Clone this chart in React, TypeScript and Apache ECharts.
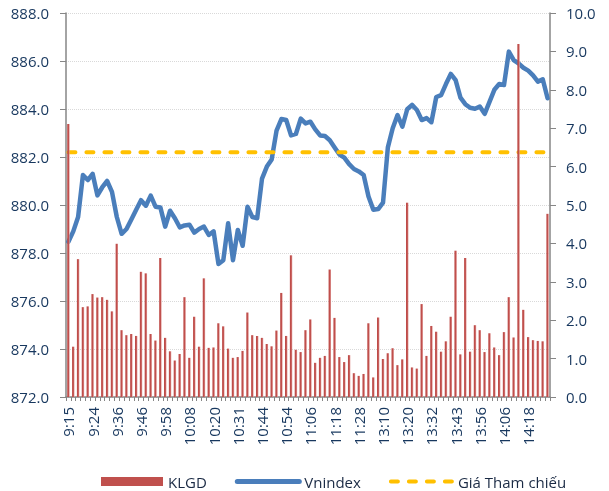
import React, { useEffect, useRef } from "react";
import * as echarts from "echarts";

const times = [
  "9:15", "9:17", "9:19", "9:20", "9:22",
  "9:24", "9:26", "9:29", "9:31", "9:34",
  "9:36", "9:38", "9:40", "9:42", "9:44",
  "9:46", "9:48", "9:51", "9:53", "9:56",
  "9:58", "10:00", "10:02", "10:04", "10:06",
  "10:08", "10:10", "10:13", "10:15", "10:18",
  "10:20", "10:22", "10:24", "10:27", "10:29",
  "10:31", "10:34", "10:36", "10:39", "10:41",
  "10:44", "10:46", "10:48", "10:50", "10:52",
  "10:54", "10:56", "10:59", "11:01", "11:04",
  "11:06", "11:08", "11:11", "11:13", "11:16",
  "11:18", "11:20", "11:22", "11:24", "11:26",
  "11:28", "11:29", "11:30", "13:05", "13:08",
  "13:10", "13:12", "13:14", "13:16", "13:18",
  "13:20", "13:22", "13:25", "13:27", "13:30",
  "13:32", "13:34", "13:36", "13:39", "13:41",
  "13:43", "13:46", "13:48", "13:51", "13:53",
  "13:56", "13:58", "14:00", "14:02", "14:04",
  "14:06", "14:08", "14:11", "14:13", "14:16",
  "14:18", "14:20", "14:22", "14:25", "14:27",
];

// KLGD (right axis)
const klgd = [
  7.11, 1.31, 3.59, 2.34, 2.36, 2.68, 2.59, 2.6, 2.53, 2.23,
  3.99, 1.74, 1.61, 1.64, 1.59, 3.26, 3.22, 1.64, 1.47, 3.62,
  1.54, 1.19, 0.95, 1.12, 2.6, 1.02, 2.09, 1.31, 3.09, 1.28,
  1.29, 1.92, 1.84, 1.26, 1.02, 1.04, 1.2, 2.2, 1.61, 1.59,
  1.54, 1.38, 1.32, 1.73, 2.71, 1.59, 3.69, 1.23, 1.17, 1.74,
  2.02, 0.89, 1.02, 1.07, 3.32, 2.06, 1.04, 0.91, 1.09, 0.62,
  0.55, 0.6, 1.92, 0.51, 2.07, 0.99, 1.14, 1.27, 0.83, 0.98,
  5.06, 0.77, 0.74, 2.42, 1.07, 1.85, 1.7, 1.18, 1.45, 2.09,
  3.81, 1.11, 3.62, 1.18, 1.87, 1.74, 1.17, 1.66, 1.29, 1.09,
  1.69, 2.6, 1.55, 9.19, 2.27, 1.56, 1.48, 1.46, 1.45, 4.77,
];

// Vnindex (left axis)
const vnindex = [
  878.47, 878.9, 879.5, 881.25, 881.04, 881.3, 880.4, 880.74, 881.0, 880.55,
  879.5, 878.8, 879.0, 879.4, 879.8, 880.2, 879.97, 880.39, 879.93, 879.9,
  879.1, 879.76, 879.45, 879.07, 879.15, 879.18, 878.85, 879.0, 879.1, 878.75,
  878.9, 877.54, 877.7, 879.24, 877.7, 878.96, 878.3, 879.93, 879.5, 879.45,
  881.1, 881.6, 881.9, 883.1, 883.58, 883.54, 882.9, 882.96, 883.6, 883.4,
  883.47, 883.15, 882.9, 882.875, 882.7, 882.4, 882.1, 881.97, 881.7, 881.5,
  881.4, 881.25, 880.35, 879.8, 879.83, 880.1, 882.4, 883.2, 883.75, 883.26,
  883.99, 884.17, 883.96, 883.54, 883.62, 883.45, 884.5, 884.58, 885.04, 885.46,
  885.2, 884.47, 884.2, 884.05, 884.01, 884.1, 883.8, 884.3, 884.8, 885.04,
  885.0, 886.39, 886.04, 885.9, 885.72, 885.6, 885.4, 885.14, 885.24, 884.45,
];

const refPrice = 882.2;

const labelColor = "#17375E";
const axisGrey = "#868686";
const FONT = "'Open Sans', 'Noto Sans', sans-serif";

export default function App() {
  const ref = useRef<HTMLDivElement>(null);
  useEffect(() => {
    const chart = echarts.init(ref.current!, null, { renderer: "svg" });
    chart.setOption({
      animation: false,
      textStyle: { fontFamily: FONT },
      grid: { left: 66, right: 59, top: 13, bottom: 94, containLabel: false },
      legend: {
        left: 96,
        top: 469,
        itemWidth: 62,
        itemHeight: 9,
        itemGap: 28,
        textStyle: { fontSize: 15, color: "#1A2A44", fontFamily: FONT },
        data: [
          { name: "KLGD", icon: "rect", itemStyle: { color: "#C0504D" } },
          {
            name: "Vnindex",
            itemStyle: { opacity: 0 },
            lineStyle: { width: 5, color: "#4A7EBB", cap: "round" },
          },
          {
            name: "Giá Tham chiếu",
            itemStyle: { opacity: 0 },
            lineStyle: { width: 4, color: "#FFC000", type: [7, 11], cap: "round" },
          },
        ],
      },
      xAxis: {
        type: "category",
        data: times,
        boundaryGap: true,
        axisLine: { lineStyle: { color: axisGrey, width: 1.5 } },
        axisTick: { show: true, interval: 0, length: 4, lineStyle: { color: axisGrey } },
        axisLabel: {
          interval: 4,
          rotate: 90,
          margin: 10,
          fontSize: 15,
          color: labelColor,
          fontFamily: FONT,
        },
        splitLine: { show: false },
      },
      yAxis: [
        {
          type: "value",
          min: 872,
          max: 888,
          interval: 2,
          position: "left",
          axisLine: { show: true, lineStyle: { color: axisGrey, width: 1.5 } },
          axisTick: { show: true, length: 6, lineStyle: { color: axisGrey } },
          axisLabel: {
            margin: 17,
            fontSize: 15,
            color: labelColor,
            fontFamily: FONT,
            formatter: (v: number) => v.toFixed(1),
          },
          splitLine: { show: true, lineStyle: { color: "#D9D9D9", type: "dotted", width: 1 } },
        },
        {
          type: "value",
          min: 0,
          max: 10,
          interval: 1,
          position: "right",
          axisLine: { show: true, lineStyle: { color: axisGrey, width: 1.5 } },
          axisTick: { show: true, length: 6, lineStyle: { color: axisGrey } },
          axisLabel: {
            margin: 16,
            fontSize: 15,
            color: labelColor,
            fontFamily: FONT,
            formatter: (v: number) => v.toFixed(1),
          },
          splitLine: { show: false },
        },
      ],
      series: [
        {
          name: "Vnindex",
          type: "line",
          yAxisIndex: 0,
          data: vnindex,
          symbol: "none",
          smooth: false,
          z: 2,
          lineStyle: { color: "#4A7EBB", width: 4.5, join: "round", cap: "round" },
          itemStyle: { color: "#4A7EBB" },
        },
        {
          name: "Giá Tham chiếu",
          type: "line",
          yAxisIndex: 0,
          data: times.map(() => refPrice),
          symbol: "none",
          z: 2,
          lineStyle: { color: "#FFC000", width: 4, type: [7, 11], cap: "round" },
          itemStyle: { color: "#FFC000" },
        },
        {
          name: "KLGD",
          type: "bar",
          yAxisIndex: 1,
          data: klgd,
          barWidth: 2.4,
          z: 3,
          itemStyle: {
            color: new echarts.graphic.LinearGradient(0, 0, 1, 0, [
              { offset: 0, color: "#BE4B48" },
              { offset: 0.55, color: "#C0504D" },
              { offset: 1, color: "#E4A09E" },
            ]),
          },
        },
      ],
    });
    return () => chart.dispose();
  }, []);
  return (
    <div
      ref={ref}
      style={{ position: "fixed", left: 0, top: 0, width: 609, height: 491 }}
    />
  );
}
